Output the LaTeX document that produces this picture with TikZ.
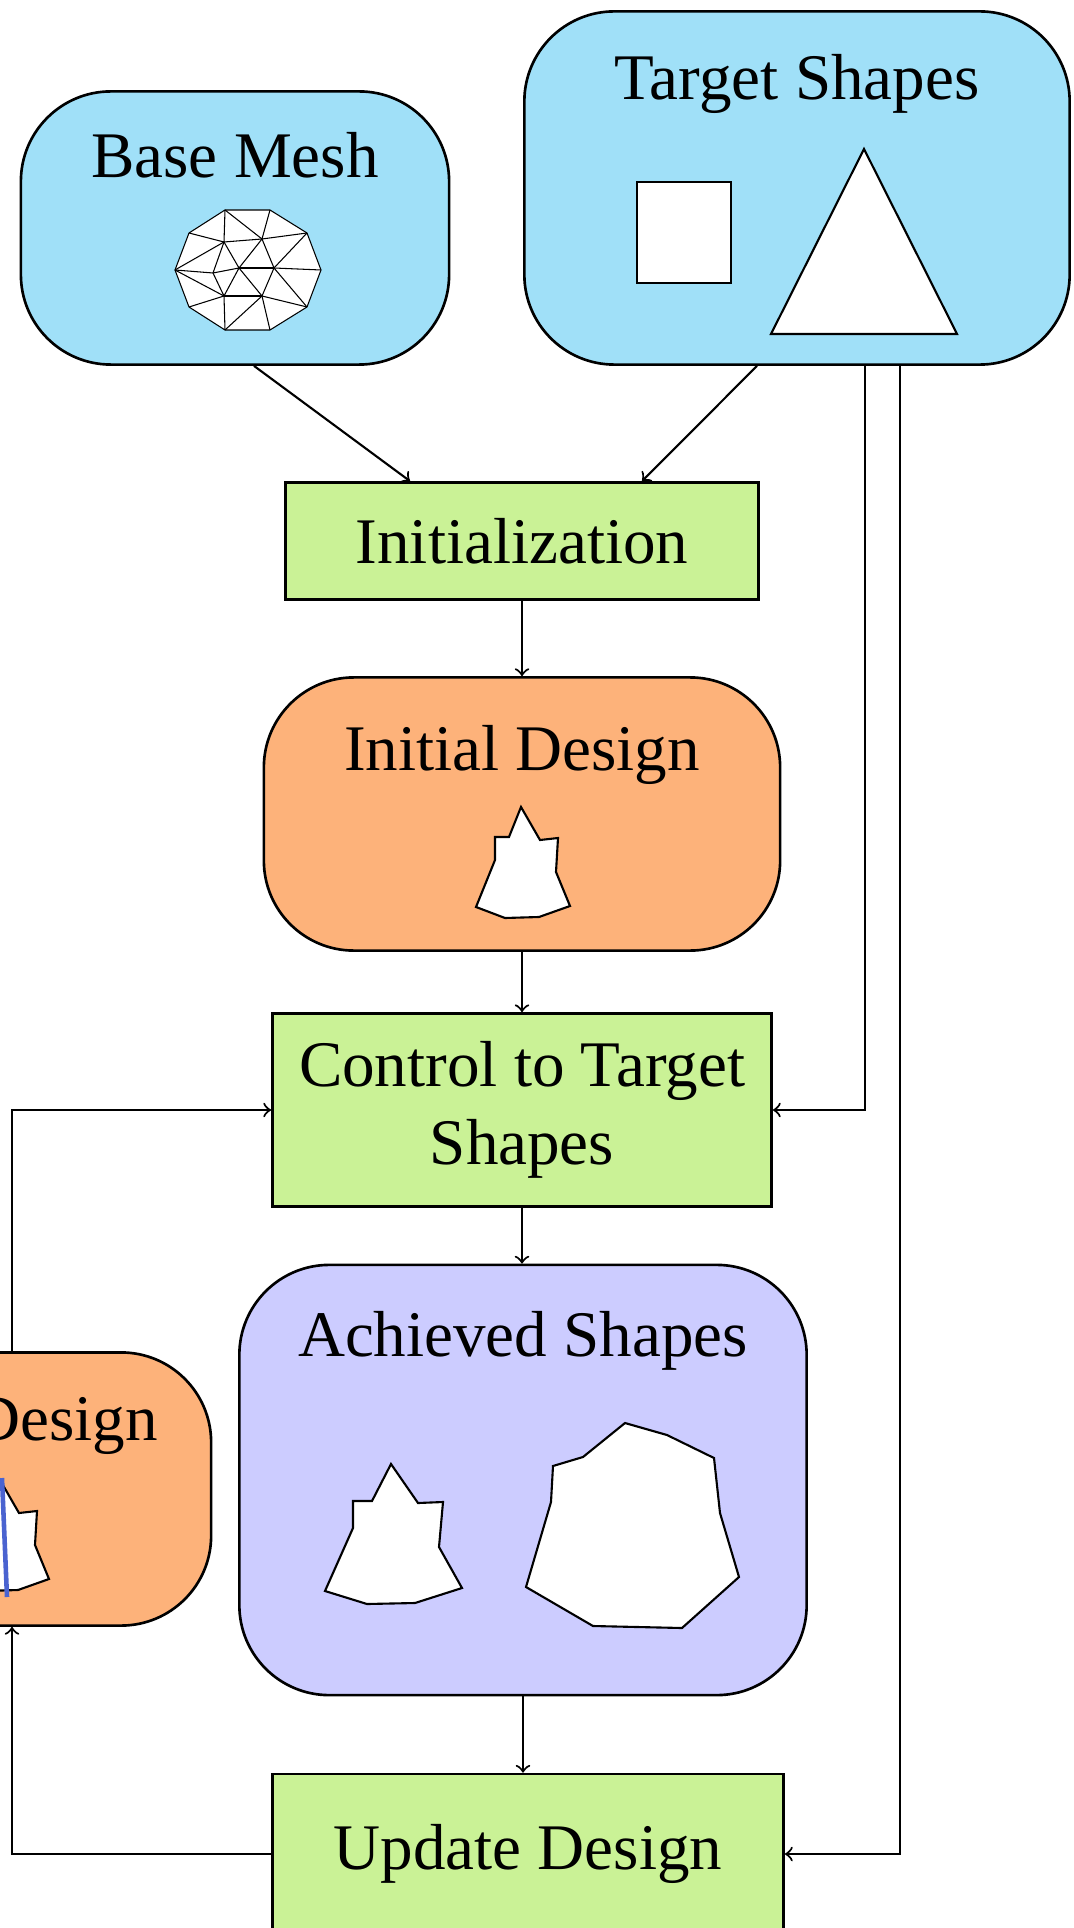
\documentclass[tikz,border=0pt]{standalone}
\usepackage{fontspec}
\setmainfont{Liberation Serif}
\usetikzlibrary{calc,positioning}

\definecolor{meshblue}{RGB}{160,224,248}
\definecolor{designorange}{RGB}{253,178,122}
\definecolor{stepgreen}{RGB}{202,242,150}
\definecolor{shapelilac}{RGB}{204,204,255}
\definecolor{cutblue}{RGB}{74,99,208}

\tikzset{
	roundbox/.style={draw, line width=0.75pt, rounded corners=0.9cm, inner sep=0pt},
	stepbox/.style={draw, line width=0.75pt, fill=stepgreen, inner sep=0pt, align=center, font=\fontsize{18.5}{22}\selectfont},
	boxtitle/.style={anchor=base, inner sep=0pt, font=\fontsize{18.5}{22}\selectfont},
	flow/.style={->, line width=0.6pt},
	outline/.style={fill=white, line width=0.6pt},
}

% the spiky design outline, reused further down
\newcommand{\seedshape}{(521,807) -- (540,840) -- (558,838) -- (556,872) -- (570,906) -- (539,917) -- (505,918) -- (476,907) -- (495,860) -- (495,837) -- (509,837) -- cycle}

\begin{document}
\begin{tikzpicture}[x=0.01cm, y=-0.01cm]
	\useasboundingbox (0,0) rectangle (1073,1928);
	\clip (0,0) rectangle (1073,1928);

	% inputs
	\node[roundbox, fill=meshblue, minimum width=4.28cm, minimum height=2.73cm] (mesh) at (235,228) {};
	\node[boxtitle] (mesh-title) at ($(mesh.north)+(0,87)$) {Base Mesh};
	\node[roundbox, fill=meshblue, minimum width=5.45cm, minimum height=3.53cm] (target) at (797,188) {};
	\node[boxtitle] (target-title) at ($(target.north)+(0,89)$) {Target Shapes};

	% main column
	\node[stepbox, minimum width=4.73cm, minimum height=1.17cm] (init) at (522,541) {Initialization};
	\node[roundbox, fill=designorange, minimum width=5.16cm, minimum height=2.73cm] (design) at (522,814) {};
	\node[boxtitle] (design-title) at ($(design.north)+(0,94)$) {Initial Design};
	\node[stepbox, minimum width=4.99cm, minimum height=1.93cm] (ctrl) at (522,1110) {Control to Target\\Shapes};
	\node[roundbox, fill=shapelilac, minimum width=5.67cm, minimum height=4.30cm] (achieved) at (523,1480) {};
	\node[boxtitle] (achieved-title) at ($(achieved.north)+(0,93)$) {Achieved Shapes};
	\node[stepbox, minimum width=5.11cm, minimum height=1.60cm] (update) at (528,1854) {Update Design};

	% updated design, mostly off the left edge
	\node[roundbox, fill=designorange, minimum width=5.16cm, minimum height=2.73cm] (newdesign) at (-47,1489) {};
	\node[boxtitle, anchor=base east] (newdesign-title) at ($(newdesign.north east)+(-54,89)$) {Design};

	% base mesh
	\foreach \n/\x/\y in {o1/225/210, o2/270/210, o3/307/233, o4/321/270, o5/307/307,
		o6/270/330, o7/225/330, o8/189/307, o9/175/270, o10/189/233,
		ma/224/242, mb/262/239, mc/213/273, md/239/268, me/274/268, mf/224/296, mg/262/296}
		\coordinate (\n) at (\x,\y);
	\filldraw[fill=white, line width=0.3pt] (o1) -- (o2) -- (o3) -- (o4) -- (o5) -- (o6) -- (o7) -- (o8) -- (o9) -- (o10) -- cycle;
	\foreach \p/\q in {o1/ma, o1/mb, o2/mb, o10/ma, ma/mb, mb/o3, o9/ma, ma/mc, ma/md, mb/md,
		mb/me, o3/me, o9/mc, mc/md, md/me, me/o4, o9/mf, mc/mf, md/mf, md/mg, me/mg, me/o5,
		mf/mg, o8/mf, mf/o7, o7/mg, mg/o6, mg/o5}
		\draw[line width=0.3pt] (\p) -- (\q);

	% target shapes
	\filldraw[outline] (637,182) rectangle (731,283);
	\filldraw[outline] (864,149) -- (957,334) -- (771,334) -- cycle;

	% designs
	\filldraw[outline] \seedshape;
	\filldraw[outline, shift={(-521,673)}] \seedshape;
	\draw[cutblue, line width=1.3pt] (2,1478) -- (7,1597);

	% achieved shapes
	\filldraw[outline] (391,1464) -- (418,1503) -- (443,1502) -- (439,1547) -- (462,1588) -- (415,1603) -- (367,1604) -- (325,1591) -- (353,1528) -- (353,1501) -- (372,1501) -- cycle;
	\filldraw[outline] (625,1423) -- (667,1435) -- (714,1458) -- (720,1513) -- (739,1577) -- (682,1628) -- (593,1626) -- (526,1587) -- (551,1502) -- (553,1466) -- (583,1457) -- cycle;

	% connectors
	\draw[flow] ($(mesh.south)+(19,0)$) -- ($(init.north)+(-112,0)$);
	\draw[flow] ($(target.south)+(-40,0)$) -- ($(init.north)+(120,0)$);
	\draw[flow] (init.south) -- (design.north);
	\draw[flow] (design.south) -- (ctrl.north);
	\draw[flow] ($(target.south)+(68,0)$) |- (ctrl.east);
	\draw[flow] ($(target.south)+(103,0)$) |- (update.east);
	\draw[flow] (ctrl.south) -- (ctrl.south |- achieved.north);
	\draw[flow] (achieved.south) -- (achieved.south |- update.north);
	\draw[flow] (update.west) -| ($(newdesign.south)+(59,0)$);
	\draw[flow] ($(newdesign.north)+(59,0)$) |- (ctrl.west);
\end{tikzpicture}
\end{document}
